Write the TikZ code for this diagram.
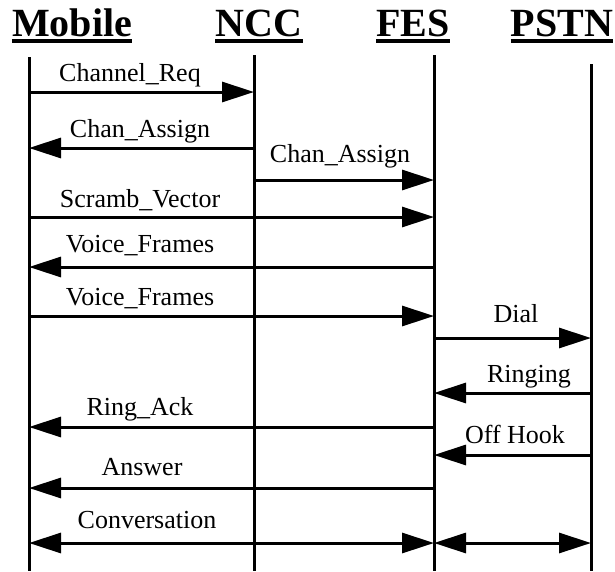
\documentclass[tikz,border=0pt]{standalone}
\usepackage{fontspec}
\setmainfont{Liberation Serif}
\usetikzlibrary{arrows.meta,positioning}

\tikzset{
  head/.style={font=\fontsize{40}{40}\selectfont\bfseries,inner sep=0pt,anchor=base},
  life/.style={line width=3pt},
  tip/.tip={Triangle[length=32pt,width=20pt]},
  msg/.style={line width=3pt,-tip},
  both/.style={line width=3pt,tip-tip},
  lbl/.style={font=\fontsize{26}{26}\selectfont,inner sep=0pt,anchor=base},
}

\begin{document}
\begin{tikzpicture}[x=1pt,y=-1pt]

\useasboundingbox (0,0) rectangle (615,571);

% headers
\node[head] (mobile) at (72,36) {Mobile};
\node[head] (ncc) at (259,36) {NCC};
\node[head] (fes) at (413,36) {FES};
\node[head] (pstn) at (562,36) {PSTN};
\foreach \n in {mobile,ncc,fes,pstn}
{
\draw[line width=3.5pt] ([yshift=-5pt]\n.base west) -- ([yshift=-5pt]\n.base east);
}

% lifelines
\coordinate (mob) at (29,57);
\coordinate (nc) at (254,55);
\coordinate (fe) at (434,55);
\coordinate (ps) at (591,64);
\foreach \c in {mob,nc,fe,ps}
{
\draw[life] (\c) -- (\c |- 0,571);
}

% messages
\foreach \a/\b/\y/\ly/\lx/\txt [count=\i] in {
  mob/nc/92/81/130/Channel\_Req,
  nc/mob/148/137/140/Chan\_Assign,
  nc/fe/180/162/340/Chan\_Assign,
  mob/fe/217/207/140/Scramb\_Vector,
  fe/mob/267/252/140/Voice\_Frames,
  mob/fe/316/305/140/Voice\_Frames,
  fe/ps/338/322/516/Dial,
  ps/fe/393/382/529/Ringing,
  fe/mob/427/415/140/Ring\_Ack,
  ps/fe/455/443/515/Off Hook,
  fe/mob/488/475/142/Answer}
{
\draw[msg] (\a |- 0,\y) -- (\b |- 0,\y);
\node[lbl] (m\i) at (\lx,\ly) {\txt};
}

\draw[both] (mob |- 0,543) -- (fe |- 0,543);
\draw[both] (fe |- 0,543) -- (ps |- 0,543);
\node[lbl] (conv) at (147,528) {Conversation};

\end{tikzpicture}
\end{document}
